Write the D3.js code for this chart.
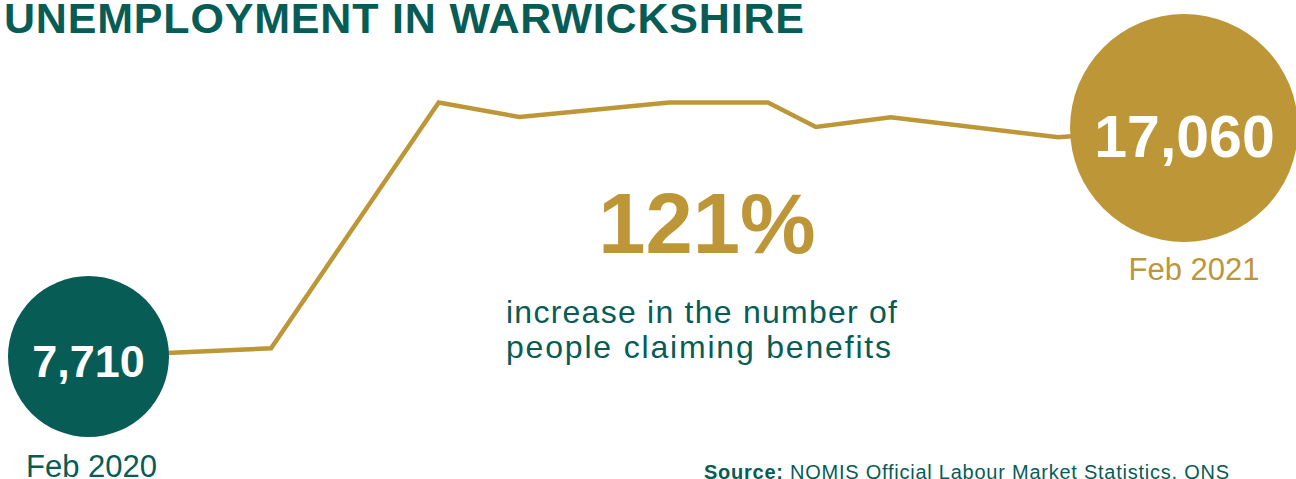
<!DOCTYPE html>
<html lang="en">
<head>
<meta charset="utf-8">
<title>Unemployment in Warwickshire</title>
<script src="https://cdn.jsdelivr.net/npm/d3@7"></script>
<style>
  html, body { margin: 0; padding: 0; background: #ffffff; }
  svg { display: block; font-family: "Liberation Sans", Arial, Helvetica, sans-serif; }
</style>
</head>
<body>
<svg id="chart" width="1296" height="479"></svg>
<script>
// Claimant count readings, Feb 2020 to Feb 2021
const readingDates = ["2020-02-01", "2020-04-02", "2020-05-28", "2020-06-24", "2020-08-13",
                      "2020-09-15", "2020-10-01", "2020-10-26", "2020-12-21", "2021-02-01"];
const claimants = [7710, 8050, 18100, 17510, 18100, 18100, 17100, 17500, 16680, 17060];
const endLabels = ["Feb 2020", "Feb 2021"];
const titleText = "UNEMPLOYMENT IN WARWICKSHIRE";
const captionLines = ["increase in the number of", "people claiming benefits"];
const sourceParts = ["Source:", " NOMIS Official Labour Market Statistics, ONS"];

const TEAL = "#085c56";
const GOLD = "#bd9638";

const parse = d3.timeParse("%Y-%m-%d");
const series = readingDates.map((d, i) => ({ date: parse(d), value: claimants[i] }));
const first = series[0];
const last = series[series.length - 1];

const svg = d3.select("#chart");

const x = d3.scaleTime()
  .domain([first.date, last.date])
  .range([88.5, 1184]);

const y = d3.scaleLinear()
  .domain([first.value, last.value])
  .range([356.5, 128]);

// Title
svg.append("text")
  .attr("x", 4)
  .attr("y", 33.3)
  .attr("fill", TEAL)
  .attr("font-weight", "bold")
  .attr("font-size", 43)
  .attr("textLength", 800)
  .attr("lengthAdjust", "spacing")
  .text(titleText);

// Trend line
const line = d3.line()
  .x(d => x(d.date))
  .y(d => y(d.value));

svg.append("path")
  .datum(series)
  .attr("d", line)
  .attr("fill", "none")
  .attr("stroke", GOLD)
  .attr("stroke-width", 4.5)
  .attr("stroke-linejoin", "miter");

const fmt = d3.format(",");

// Start bubble
svg.append("circle")
  .attr("cx", x(first.date))
  .attr("cy", y(first.value))
  .attr("r", 80.5)
  .attr("fill", TEAL);

svg.append("text")
  .attr("x", x(first.date))
  .attr("y", y(first.value) + 20.8)
  .attr("text-anchor", "middle")
  .attr("fill", "#ffffff")
  .attr("font-weight", "bold")
  .attr("font-size", 45)
  .text(fmt(first.value));

svg.append("text")
  .attr("x", x(first.date) + 3)
  .attr("y", y(first.value) + 120.5)
  .attr("text-anchor", "middle")
  .attr("fill", TEAL)
  .attr("font-size", 31)
  .text(endLabels[0]);

// End bubble
svg.append("circle")
  .attr("cx", x(last.date))
  .attr("cy", y(last.value))
  .attr("r", 114)
  .attr("fill", GOLD);

svg.append("text")
  .attr("x", x(last.date) + 0.5)
  .attr("y", y(last.value) + 28.7)
  .attr("text-anchor", "middle")
  .attr("fill", "#ffffff")
  .attr("font-weight", "bold")
  .attr("font-size", 59)
  .text(fmt(last.value));

svg.append("text")
  .attr("x", x(last.date) + 10)
  .attr("y", y(last.value) + 152)
  .attr("text-anchor", "middle")
  .attr("fill", GOLD)
  .attr("font-size", 31)
  .text(endLabels[1]);

// Headline change
const change = (last.value - first.value) / first.value;
svg.append("text")
  .attr("x", 707)
  .attr("y", 253)
  .attr("text-anchor", "middle")
  .attr("fill", GOLD)
  .attr("font-weight", "bold")
  .attr("font-size", 85)
  .text(d3.format(".0%")(change));

const captionWidths = [391, 385];
svg.selectAll("text.caption")
  .data(captionLines)
  .join("text")
  .attr("class", "caption")
  .attr("x", 506)
  .attr("y", (d, i) => 323.3 + i * 35)
  .attr("fill", TEAL)
  .attr("font-size", 32)
  .attr("textLength", (d, i) => captionWidths[i])
  .attr("lengthAdjust", "spacing")
  .text(d => d);

// Source note
const src = svg.append("text")
  .attr("x", 704)
  .attr("y", 478.5)
  .attr("fill", TEAL)
  .attr("font-size", 20)
  .attr("textLength", 525)
  .attr("lengthAdjust", "spacing");
src.append("tspan").attr("font-weight", "bold").text(sourceParts[0]);
src.append("tspan").text(sourceParts[1]);
</script>
</body>
</html>
